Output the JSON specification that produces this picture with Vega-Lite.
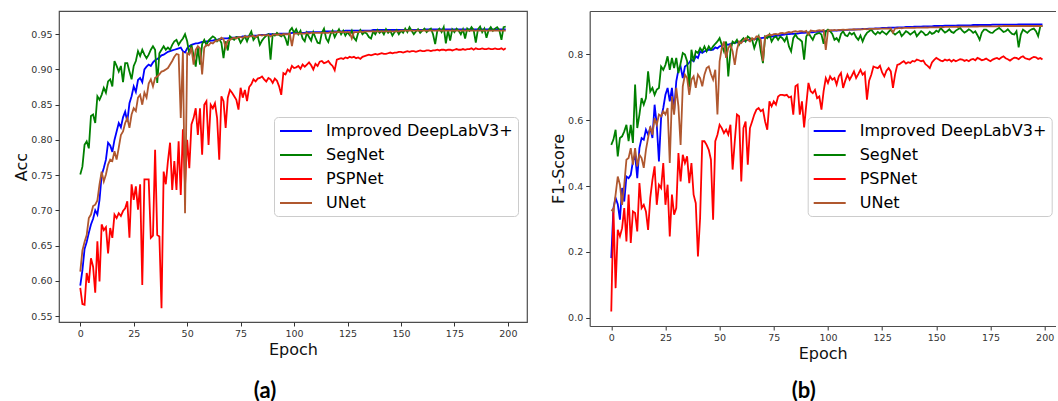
{
"$schema":"https://vega.github.io/schema/vega-lite/v6.json",
"background":"white",
"padding":{"left":13,"top":10,"right":0,"bottom":0},
"spacing":62.7,
"bounds":"flush",
"config":{
 "font":"DejaVu Sans",
 "view":{"stroke":"#4d4d4d","strokeWidth":1.2},
 "axis":{"labelFont":"DejaVu Sans","labelFontSize":9.5,"labelColor":"#333333","tickColor":"#333333","tickSize":4,"tickWidth":1,"titleFont":"DejaVu Sans","titleFontSize":16,"titleFontWeight":"normal","titleColor":"#111111","grid":false,"domainColor":"#4d4d4d","domainWidth":1.2},
 "axisY":{"titlePadding":1,"labelPadding":3},
 "axisX":{"titlePadding":4,"labelPadding":2},
 "legend":{"orient":"none","direction":"vertical","title":null,"labelFont":"DejaVu Sans","labelFontSize":16,"labelColor":"#000000","labelLimit":400,"symbolType":"M-2,0H2","symbolSize":256,"symbolStrokeWidth":2,"symbolOffset":8,"labelOffset":21,"rowPadding":7,"padding":5,"strokeColor":"#cccccc","fillColor":"rgba(255,255,255,0.85)","cornerRadius":4}
},
"resolve":{"scale":{"x":"independent","y":"independent","color":"independent"},"legend":{"color":"independent"}},
"hconcat":[
{
 "width":468,"height":311,
 "title":{"text":"(a)","orient":"bottom","frame":"group","anchor":"middle","font":"Lato","fontSize":22,"fontWeight":"bold","color":"#000000","offset":23,"dx":-28},
 "data":{"name":"a"},
 "transform":[{"fold":["D","S","P","U"],"as":["k","v"]}],
 "mark":{"type":"line","strokeWidth":1.8,"clip":true},
 "encoding":{
  "x":{"field":"e","type":"quantitative","scale":{"domain":[-9.95,208.95],"nice":false,"zero":false},"axis":{"values":[0,25,50,75,100,125,150,175,200],"title":"Epoch","domain":false}},
  "y":{"field":"v","type":"quantitative","scale":{"domain":[0.5415,0.983],"nice":false,"zero":false},"axis":{"values":[0.55,0.6,0.65,0.7,0.75,0.8,0.85,0.9,0.95],"format":".2f","title":"Acc","domain":false}},
  "color":{"field":"k","type":"nominal","scale":{"domain":["D","S","P","U"],"range":["#0000ff","#008000","#ff0000","#b0582f"]},"legend":{"legendX":215,"legendY":106,"labelExpr":"datum.label == 'D' ? 'Improved DeepLabV3+' : datum.label == 'S' ? 'SegNet' : datum.label == 'P' ? 'PSPNet' : 'UNet'"}}
 }
},
{
 "width":466,"height":315,
 "view":{"stroke":null},
 "title":{"text":"(b)","orient":"bottom","frame":"group","anchor":"middle","font":"Lato","fontSize":22,"fontWeight":"bold","color":"#000000","offset":23,"dx":-19,"dy":-4},
 "data":{"name":"b"},
 "transform":[{"fold":["D","S","P","U"],"as":["k","v"]}],
 "layer":[
 {
  "mark":{"type":"line","strokeWidth":1.8,"clip":true},
  "encoding":{
   "x":{"field":"e","type":"quantitative","scale":{"domain":[-9.95,205.1],"nice":false,"zero":false},"axis":{"orient":"bottom","values":[0,25,50,75,100,125,150,175,200],"title":"Epoch","domain":true}},
   "y":{"field":"v","type":"quantitative","scale":{"domain":[-0.025,0.9315],"nice":false,"zero":false},"axis":{"orient":"left","values":[0,0.2,0.4,0.6,0.8],"format":".1f","title":"F1-Score","domain":true}},
   "color":{"field":"k","type":"nominal","scale":{"domain":["D","S","P","U"],"range":["#0000ff","#008000","#ff0000","#b0582f"]},"legend":{"legendX":218,"legendY":106,"labelExpr":"datum.label == 'D' ? 'Improved DeepLabV3+' : datum.label == 'S' ? 'SegNet' : datum.label == 'P' ? 'PSPNet' : 'UNet'"}}
  }
 },
 {
  "mark":{"type":"line","opacity":0},
  "encoding":{
   "x":{"field":"e","type":"quantitative","scale":{"domain":[-9.95,205.1],"nice":false,"zero":false},"axis":{"orient":"top","labels":false,"ticks":false,"title":null,"domain":true}},
   "y":{"field":"v","type":"quantitative","scale":{"domain":[-0.025,0.9315],"nice":false,"zero":false}}
  }
 }
 ]
}
],
"datasets":{
"a":[
{"e":0,"D":0.593,"S":0.751,"P":0.590,"U":0.613},
{"e":1,"D":0.615,"S":0.762,"P":0.567,"U":0.643},
{"e":2,"D":0.645,"S":0.793,"P":0.566,"U":0.655},
{"e":3,"D":0.655,"S":0.798,"P":0.611,"U":0.665},
{"e":4,"D":0.668,"S":0.788,"P":0.597,"U":0.689},
{"e":5,"D":0.680,"S":0.834,"P":0.632,"U":0.694},
{"e":6,"D":0.688,"S":0.836,"P":0.620,"U":0.706},
{"e":7,"D":0.700,"S":0.824,"P":0.583,"U":0.708},
{"e":8,"D":0.694,"S":0.862,"P":0.656,"U":0.714},
{"e":9,"D":0.715,"S":0.857,"P":0.599,"U":0.737},
{"e":10,"D":0.750,"S":0.864,"P":0.680,"U":0.755},
{"e":11,"D":0.760,"S":0.874,"P":0.672,"U":0.741},
{"e":12,"D":0.772,"S":0.867,"P":0.676,"U":0.751},
{"e":13,"D":0.796,"S":0.883,"P":0.639,"U":0.765},
{"e":14,"D":0.792,"S":0.886,"P":0.675,"U":0.772},
{"e":15,"D":0.783,"S":0.876,"P":0.661,"U":0.770},
{"e":16,"D":0.800,"S":0.912,"P":0.694,"U":0.784},
{"e":17,"D":0.812,"S":0.905,"P":0.689,"U":0.772},
{"e":18,"D":0.824,"S":0.897,"P":0.696,"U":0.789},
{"e":19,"D":0.818,"S":0.905,"P":0.692,"U":0.807},
{"e":20,"D":0.832,"S":0.882,"P":0.699,"U":0.812},
{"e":21,"D":0.840,"S":0.909,"P":0.703,"U":0.824},
{"e":22,"D":0.826,"S":0.909,"P":0.713,"U":0.831},
{"e":23,"D":0.852,"S":0.897,"P":0.661,"U":0.817},
{"e":24,"D":0.862,"S":0.886,"P":0.737,"U":0.836},
{"e":25,"D":0.876,"S":0.905,"P":0.715,"U":0.845},
{"e":26,"D":0.868,"S":0.912,"P":0.734,"U":0.841},
{"e":27,"D":0.885,"S":0.926,"P":0.701,"U":0.860},
{"e":28,"D":0.888,"S":0.919,"P":0.737,"U":0.864},
{"e":29,"D":0.882,"S":0.928,"P":0.594,"U":0.850},
{"e":30,"D":0.900,"S":0.921,"P":0.744,"U":0.867},
{"e":31,"D":0.904,"S":0.916,"P":0.744,"U":0.860},
{"e":32,"D":0.907,"S":0.921,"P":0.744,"U":0.880},
{"e":33,"D":0.905,"S":0.928,"P":0.661,"U":0.886},
{"e":34,"D":0.910,"S":0.933,"P":0.664,"U":0.876},
{"e":35,"D":0.913,"S":0.928,"P":0.786,"U":0.888},
{"e":36,"D":0.915,"S":0.881,"P":0.665,"U":0.890},
{"e":37,"D":0.917,"S":0.923,"P":0.663,"U":0.893},
{"e":38,"D":0.920,"S":0.928,"P":0.561,"U":0.897},
{"e":39,"D":0.921,"S":0.933,"P":0.755,"U":0.898},
{"e":40,"D":0.923,"S":0.928,"P":0.737,"U":0.900},
{"e":41,"D":0.925,"S":0.931,"P":0.770,"U":0.902},
{"e":42,"D":0.926,"S":0.928,"P":0.796,"U":0.907},
{"e":43,"D":0.927,"S":0.935,"P":0.729,"U":0.912},
{"e":44,"D":0.928,"S":0.940,"P":0.770,"U":0.918},
{"e":45,"D":0.929,"S":0.942,"P":0.729,"U":0.922},
{"e":46,"D":0.930,"S":0.935,"P":0.798,"U":0.921},
{"e":47,"D":0.931,"S":0.940,"P":0.722,"U":0.831},
{"e":48,"D":0.926,"S":0.944,"P":0.815,"U":0.925},
{"e":49,"D":0.924,"S":0.950,"P":0.735,"U":0.696},
{"e":50,"D":0.930,"S":0.940,"P":0.800,"U":0.923},
{"e":51,"D":0.933,"S":0.922,"P":0.760,"U":0.921},
{"e":52,"D":0.935,"S":0.935,"P":0.822,"U":0.931},
{"e":53,"D":0.936,"S":0.920,"P":0.831,"U":0.907},
{"e":54,"D":0.937,"S":0.904,"P":0.845,"U":0.928},
{"e":55,"D":0.937,"S":0.931,"P":0.807,"U":0.933},
{"e":56,"D":0.938,"S":0.907,"P":0.845,"U":0.930},
{"e":57,"D":0.939,"S":0.936,"P":0.779,"U":0.893},
{"e":58,"D":0.939,"S":0.942,"P":0.850,"U":0.931},
{"e":59,"D":0.940,"S":0.935,"P":0.855,"U":0.935},
{"e":60,"D":0.940,"S":0.941,"P":0.793,"U":0.934},
{"e":61,"D":0.941,"S":0.944,"P":0.850,"U":0.938},
{"e":62,"D":0.941,"S":0.947,"P":0.845,"U":0.937},
{"e":63,"D":0.942,"S":0.945,"P":0.852,"U":0.940},
{"e":64,"D":0.942,"S":0.940,"P":0.831,"U":0.941},
{"e":65,"D":0.943,"S":0.943,"P":0.772,"U":0.942},
{"e":66,"D":0.943,"S":0.938,"P":0.862,"U":0.945},
{"e":67,"D":0.944,"S":0.916,"P":0.855,"U":0.943},
{"e":68,"D":0.944,"S":0.940,"P":0.817,"U":0.931},
{"e":69,"D":0.944,"S":0.927,"P":0.860,"U":0.941},
{"e":70,"D":0.945,"S":0.947,"P":0.871,"U":0.942},
{"e":71,"D":0.945,"S":0.944,"P":0.867,"U":0.944},
{"e":72,"D":0.945,"S":0.942,"P":0.862,"U":0.945},
{"e":73,"D":0.946,"S":0.946,"P":0.857,"U":0.944},
{"e":74,"D":0.946,"S":0.945,"P":0.843,"U":0.946},
{"e":75,"D":0.946,"S":0.938,"P":0.874,"U":0.946},
{"e":76,"D":0.947,"S":0.943,"P":0.860,"U":0.945},
{"e":77,"D":0.947,"S":0.947,"P":0.871,"U":0.947},
{"e":78,"D":0.947,"S":0.940,"P":0.855,"U":0.946},
{"e":79,"D":0.947,"S":0.948,"P":0.875,"U":0.947},
{"e":80,"D":0.948,"S":0.954,"P":0.879,"U":0.947},
{"e":81,"D":0.948,"S":0.942,"P":0.886,"U":0.948},
{"e":82,"D":0.948,"S":0.946,"P":0.883,"U":0.946},
{"e":83,"D":0.948,"S":0.947,"P":0.887,"U":0.948},
{"e":84,"D":0.949,"S":0.935,"P":0.888,"U":0.949},
{"e":85,"D":0.949,"S":0.941,"P":0.890,"U":0.948},
{"e":86,"D":0.949,"S":0.945,"P":0.886,"U":0.949},
{"e":87,"D":0.949,"S":0.948,"P":0.883,"U":0.948},
{"e":88,"D":0.950,"S":0.950,"P":0.888,"U":0.949},
{"e":89,"D":0.950,"S":0.914,"P":0.886,"U":0.947},
{"e":90,"D":0.950,"S":0.950,"P":0.881,"U":0.949},
{"e":91,"D":0.950,"S":0.948,"P":0.887,"U":0.950},
{"e":92,"D":0.950,"S":0.952,"P":0.884,"U":0.949},
{"e":93,"D":0.951,"S":0.949,"P":0.876,"U":0.950},
{"e":94,"D":0.951,"S":0.947,"P":0.864,"U":0.949},
{"e":95,"D":0.951,"S":0.950,"P":0.895,"U":0.950},
{"e":96,"D":0.951,"S":0.944,"P":0.893,"U":0.950},
{"e":97,"D":0.951,"S":0.934,"P":0.900,"U":0.950},
{"e":98,"D":0.951,"S":0.955,"P":0.897,"U":0.951},
{"e":99,"D":0.952,"S":0.959,"P":0.905,"U":0.933},
{"e":100,"D":0.952,"S":0.952,"P":0.902,"U":0.951},
{"e":101,"D":0.952,"S":0.957,"P":0.903,"U":0.951},
{"e":102,"D":0.952,"S":0.950,"P":0.905,"U":0.951},
{"e":103,"D":0.952,"S":0.955,"P":0.901,"U":0.951},
{"e":104,"D":0.952,"S":0.944,"P":0.907,"U":0.951},
{"e":105,"D":0.952,"S":0.940,"P":0.904,"U":0.951},
{"e":106,"D":0.953,"S":0.952,"P":0.907,"U":0.952},
{"e":107,"D":0.953,"S":0.946,"P":0.910,"U":0.951},
{"e":108,"D":0.953,"S":0.941,"P":0.906,"U":0.952},
{"e":109,"D":0.953,"S":0.953,"P":0.900,"U":0.952},
{"e":110,"D":0.953,"S":0.945,"P":0.908,"U":0.952},
{"e":111,"D":0.953,"S":0.938,"P":0.905,"U":0.952},
{"e":112,"D":0.953,"S":0.937,"P":0.911,"U":0.952},
{"e":113,"D":0.953,"S":0.952,"P":0.912,"U":0.952},
{"e":114,"D":0.954,"S":0.958,"P":0.909,"U":0.952},
{"e":115,"D":0.954,"S":0.944,"P":0.910,"U":0.952},
{"e":116,"D":0.954,"S":0.939,"P":0.912,"U":0.952},
{"e":117,"D":0.954,"S":0.950,"P":0.908,"U":0.953},
{"e":118,"D":0.954,"S":0.955,"P":0.905,"U":0.952},
{"e":119,"D":0.954,"S":0.946,"P":0.899,"U":0.953},
{"e":120,"D":0.954,"S":0.952,"P":0.914,"U":0.953},
{"e":121,"D":0.954,"S":0.957,"P":0.915,"U":0.953},
{"e":122,"D":0.954,"S":0.950,"P":0.916,"U":0.953},
{"e":123,"D":0.954,"S":0.955,"P":0.915,"U":0.953},
{"e":124,"D":0.955,"S":0.948,"P":0.917,"U":0.953},
{"e":125,"D":0.955,"S":0.953,"P":0.916,"U":0.953},
{"e":126,"D":0.955,"S":0.949,"P":0.918,"U":0.953},
{"e":127,"D":0.955,"S":0.955,"P":0.917,"U":0.944},
{"e":128,"D":0.955,"S":0.945,"P":0.918,"U":0.953},
{"e":129,"D":0.955,"S":0.941,"P":0.916,"U":0.953},
{"e":130,"D":0.955,"S":0.952,"P":0.917,"U":0.953},
{"e":131,"D":0.955,"S":0.956,"P":0.915,"U":0.954},
{"e":132,"D":0.955,"S":0.950,"P":0.918,"U":0.953},
{"e":133,"D":0.955,"S":0.953,"P":0.919,"U":0.954},
{"e":134,"D":0.955,"S":0.951,"P":0.920,"U":0.954},
{"e":135,"D":0.955,"S":0.946,"P":0.921,"U":0.954},
{"e":136,"D":0.955,"S":0.944,"P":0.920,"U":0.954},
{"e":137,"D":0.956,"S":0.954,"P":0.921,"U":0.954},
{"e":138,"D":0.956,"S":0.950,"P":0.922,"U":0.954},
{"e":139,"D":0.956,"S":0.956,"P":0.921,"U":0.954},
{"e":140,"D":0.956,"S":0.952,"P":0.922,"U":0.954},
{"e":141,"D":0.956,"S":0.955,"P":0.923,"U":0.954},
{"e":142,"D":0.956,"S":0.950,"P":0.922,"U":0.954},
{"e":143,"D":0.956,"S":0.957,"P":0.922,"U":0.954},
{"e":144,"D":0.956,"S":0.952,"P":0.923,"U":0.954},
{"e":145,"D":0.956,"S":0.955,"P":0.924,"U":0.954},
{"e":146,"D":0.956,"S":0.948,"P":0.923,"U":0.954},
{"e":147,"D":0.956,"S":0.953,"P":0.924,"U":0.954},
{"e":148,"D":0.956,"S":0.956,"P":0.924,"U":0.954},
{"e":149,"D":0.956,"S":0.950,"P":0.925,"U":0.954},
{"e":150,"D":0.956,"S":0.955,"P":0.925,"U":0.955},
{"e":151,"D":0.956,"S":0.952,"P":0.924,"U":0.955},
{"e":152,"D":0.956,"S":0.958,"P":0.925,"U":0.955},
{"e":153,"D":0.956,"S":0.953,"P":0.926,"U":0.955},
{"e":154,"D":0.956,"S":0.960,"P":0.925,"U":0.955},
{"e":155,"D":0.956,"S":0.955,"P":0.926,"U":0.955},
{"e":156,"D":0.956,"S":0.950,"P":0.926,"U":0.955},
{"e":157,"D":0.956,"S":0.954,"P":0.925,"U":0.955},
{"e":158,"D":0.956,"S":0.957,"P":0.926,"U":0.955},
{"e":159,"D":0.956,"S":0.952,"P":0.927,"U":0.955},
{"e":160,"D":0.956,"S":0.955,"P":0.926,"U":0.955},
{"e":161,"D":0.957,"S":0.958,"P":0.926,"U":0.955},
{"e":162,"D":0.957,"S":0.953,"P":0.927,"U":0.955},
{"e":163,"D":0.957,"S":0.956,"P":0.927,"U":0.955},
{"e":164,"D":0.957,"S":0.958,"P":0.926,"U":0.955},
{"e":165,"D":0.957,"S":0.950,"P":0.927,"U":0.955},
{"e":166,"D":0.957,"S":0.936,"P":0.927,"U":0.955},
{"e":167,"D":0.957,"S":0.955,"P":0.928,"U":0.955},
{"e":168,"D":0.957,"S":0.958,"P":0.927,"U":0.955},
{"e":169,"D":0.957,"S":0.953,"P":0.928,"U":0.955},
{"e":170,"D":0.957,"S":0.960,"P":0.928,"U":0.955},
{"e":171,"D":0.957,"S":0.937,"P":0.927,"U":0.955},
{"e":172,"D":0.957,"S":0.956,"P":0.928,"U":0.955},
{"e":173,"D":0.957,"S":0.941,"P":0.928,"U":0.955},
{"e":174,"D":0.957,"S":0.957,"P":0.927,"U":0.955},
{"e":175,"D":0.957,"S":0.953,"P":0.928,"U":0.955},
{"e":176,"D":0.957,"S":0.958,"P":0.929,"U":0.955},
{"e":177,"D":0.957,"S":0.955,"P":0.928,"U":0.955},
{"e":178,"D":0.957,"S":0.950,"P":0.928,"U":0.955},
{"e":179,"D":0.957,"S":0.957,"P":0.929,"U":0.955},
{"e":180,"D":0.957,"S":0.944,"P":0.928,"U":0.955},
{"e":181,"D":0.957,"S":0.958,"P":0.929,"U":0.955},
{"e":182,"D":0.957,"S":0.955,"P":0.929,"U":0.955},
{"e":183,"D":0.957,"S":0.960,"P":0.930,"U":0.955},
{"e":184,"D":0.957,"S":0.956,"P":0.928,"U":0.955},
{"e":185,"D":0.957,"S":0.938,"P":0.930,"U":0.955},
{"e":186,"D":0.957,"S":0.957,"P":0.929,"U":0.955},
{"e":187,"D":0.957,"S":0.961,"P":0.929,"U":0.955},
{"e":188,"D":0.957,"S":0.953,"P":0.930,"U":0.955},
{"e":189,"D":0.957,"S":0.958,"P":0.929,"U":0.955},
{"e":190,"D":0.957,"S":0.945,"P":0.929,"U":0.955},
{"e":191,"D":0.957,"S":0.956,"P":0.930,"U":0.955},
{"e":192,"D":0.957,"S":0.960,"P":0.929,"U":0.955},
{"e":193,"D":0.957,"S":0.955,"P":0.929,"U":0.955},
{"e":194,"D":0.957,"S":0.958,"P":0.930,"U":0.955},
{"e":195,"D":0.957,"S":0.960,"P":0.929,"U":0.955},
{"e":196,"D":0.957,"S":0.956,"P":0.929,"U":0.955},
{"e":197,"D":0.957,"S":0.942,"P":0.930,"U":0.955},
{"e":198,"D":0.957,"S":0.960,"P":0.928,"U":0.955},
{"e":199,"D":0.957,"S":0.961,"P":0.930,"U":0.955}
],
"b":[
{"e":0,"D":0.181,"S":0.525,"P":0.019,"U":0.328},
{"e":1,"D":0.333,"S":0.541,"P":0.333,"U":0.323},
{"e":2,"D":0.364,"S":0.571,"P":0.090,"U":0.374},
{"e":3,"D":0.345,"S":0.490,"P":0.267,"U":0.429},
{"e":4,"D":0.298,"S":0.546,"P":0.247,"U":0.404},
{"e":5,"D":0.394,"S":0.551,"P":0.272,"U":0.343},
{"e":6,"D":0.353,"S":0.566,"P":0.333,"U":0.404},
{"e":7,"D":0.429,"S":0.586,"P":0.232,"U":0.480},
{"e":8,"D":0.424,"S":0.536,"P":0.374,"U":0.485},
{"e":9,"D":0.434,"S":0.586,"P":0.227,"U":0.515},
{"e":10,"D":0.475,"S":0.531,"P":0.323,"U":0.465},
{"e":11,"D":0.495,"S":0.708,"P":0.318,"U":0.515},
{"e":12,"D":0.424,"S":0.576,"P":0.262,"U":0.460},
{"e":13,"D":0.515,"S":0.617,"P":0.409,"U":0.495},
{"e":14,"D":0.546,"S":0.667,"P":0.333,"U":0.485},
{"e":15,"D":0.541,"S":0.647,"P":0.343,"U":0.455},
{"e":16,"D":0.571,"S":0.667,"P":0.323,"U":0.510},
{"e":17,"D":0.556,"S":0.748,"P":0.267,"U":0.546},
{"e":18,"D":0.576,"S":0.687,"P":0.364,"U":0.581},
{"e":19,"D":0.546,"S":0.698,"P":0.419,"U":0.556},
{"e":20,"D":0.647,"S":0.677,"P":0.460,"U":0.606},
{"e":21,"D":0.586,"S":0.693,"P":0.343,"U":0.586},
{"e":22,"D":0.475,"S":0.698,"P":0.404,"U":0.617},
{"e":23,"D":0.606,"S":0.763,"P":0.394,"U":0.612},
{"e":24,"D":0.637,"S":0.753,"P":0.470,"U":0.627},
{"e":25,"D":0.677,"S":0.768,"P":0.343,"U":0.617},
{"e":26,"D":0.698,"S":0.794,"P":0.404,"U":0.637},
{"e":27,"D":0.657,"S":0.753,"P":0.247,"U":0.470},
{"e":28,"D":0.698,"S":0.789,"P":0.374,"U":0.672},
{"e":29,"D":0.627,"S":0.758,"P":0.313,"U":0.617},
{"e":30,"D":0.718,"S":0.789,"P":0.333,"U":0.698},
{"e":31,"D":0.753,"S":0.743,"P":0.500,"U":0.642},
{"e":32,"D":0.763,"S":0.773,"P":0.414,"U":0.525},
{"e":33,"D":0.728,"S":0.804,"P":0.495,"U":0.703},
{"e":34,"D":0.763,"S":0.799,"P":0.470,"U":0.738},
{"e":35,"D":0.768,"S":0.779,"P":0.490,"U":0.728},
{"e":36,"D":0.775,"S":0.700,"P":0.409,"U":0.677},
{"e":37,"D":0.784,"S":0.814,"P":0.470,"U":0.723},
{"e":38,"D":0.779,"S":0.779,"P":0.374,"U":0.733},
{"e":39,"D":0.794,"S":0.809,"P":0.348,"U":0.698},
{"e":40,"D":0.789,"S":0.804,"P":0.186,"U":0.738},
{"e":41,"D":0.809,"S":0.819,"P":0.303,"U":0.728},
{"e":42,"D":0.804,"S":0.809,"P":0.536,"U":0.703},
{"e":43,"D":0.809,"S":0.824,"P":0.536,"U":0.738},
{"e":44,"D":0.811,"S":0.809,"P":0.525,"U":0.758},
{"e":45,"D":0.814,"S":0.824,"P":0.510,"U":0.763},
{"e":46,"D":0.813,"S":0.814,"P":0.480,"U":0.740},
{"e":47,"D":0.814,"S":0.824,"P":0.298,"U":0.723},
{"e":48,"D":0.821,"S":0.832,"P":0.536,"U":0.753},
{"e":49,"D":0.818,"S":0.839,"P":0.556,"U":0.617},
{"e":50,"D":0.824,"S":0.849,"P":0.586,"U":0.779},
{"e":51,"D":0.826,"S":0.829,"P":0.576,"U":0.819},
{"e":52,"D":0.828,"S":0.809,"P":0.561,"U":0.839},
{"e":53,"D":0.830,"S":0.839,"P":0.571,"U":0.789},
{"e":54,"D":0.829,"S":0.733,"P":0.556,"U":0.819},
{"e":55,"D":0.832,"S":0.809,"P":0.586,"U":0.829},
{"e":56,"D":0.834,"S":0.839,"P":0.450,"U":0.809},
{"e":57,"D":0.835,"S":0.834,"P":0.536,"U":0.768},
{"e":58,"D":0.836,"S":0.844,"P":0.617,"U":0.814},
{"e":59,"D":0.838,"S":0.829,"P":0.612,"U":0.839},
{"e":60,"D":0.839,"S":0.842,"P":0.414,"U":0.834},
{"e":61,"D":0.840,"S":0.849,"P":0.576,"U":0.842},
{"e":62,"D":0.842,"S":0.839,"P":0.596,"U":0.849},
{"e":63,"D":0.843,"S":0.854,"P":0.465,"U":0.844},
{"e":64,"D":0.844,"S":0.849,"P":0.576,"U":0.839},
{"e":65,"D":0.845,"S":0.844,"P":0.596,"U":0.849},
{"e":66,"D":0.846,"S":0.819,"P":0.617,"U":0.844},
{"e":67,"D":0.847,"S":0.839,"P":0.632,"U":0.854},
{"e":68,"D":0.848,"S":0.854,"P":0.637,"U":0.854},
{"e":69,"D":0.849,"S":0.809,"P":0.627,"U":0.844},
{"e":70,"D":0.850,"S":0.773,"P":0.632,"U":0.779},
{"e":71,"D":0.851,"S":0.854,"P":0.596,"U":0.854},
{"e":72,"D":0.852,"S":0.849,"P":0.571,"U":0.857},
{"e":73,"D":0.853,"S":0.860,"P":0.657,"U":0.860},
{"e":74,"D":0.854,"S":0.839,"P":0.642,"U":0.858},
{"e":75,"D":0.855,"S":0.850,"P":0.657,"U":0.861},
{"e":76,"D":0.856,"S":0.854,"P":0.647,"U":0.862},
{"e":77,"D":0.857,"S":0.844,"P":0.672,"U":0.860},
{"e":78,"D":0.858,"S":0.854,"P":0.677,"U":0.864},
{"e":79,"D":0.859,"S":0.849,"P":0.677,"U":0.865},
{"e":80,"D":0.860,"S":0.839,"P":0.675,"U":0.863},
{"e":81,"D":0.861,"S":0.854,"P":0.677,"U":0.866},
{"e":82,"D":0.861,"S":0.824,"P":0.669,"U":0.868},
{"e":83,"D":0.862,"S":0.809,"P":0.672,"U":0.866},
{"e":84,"D":0.862,"S":0.849,"P":0.617,"U":0.869},
{"e":85,"D":0.863,"S":0.860,"P":0.703,"U":0.870},
{"e":86,"D":0.863,"S":0.849,"P":0.708,"U":0.868},
{"e":87,"D":0.864,"S":0.845,"P":0.617,"U":0.870},
{"e":88,"D":0.865,"S":0.839,"P":0.657,"U":0.870},
{"e":89,"D":0.865,"S":0.784,"P":0.578,"U":0.868},
{"e":90,"D":0.866,"S":0.854,"P":0.647,"U":0.871},
{"e":91,"D":0.866,"S":0.865,"P":0.713,"U":0.860},
{"e":92,"D":0.867,"S":0.854,"P":0.688,"U":0.872},
{"e":93,"D":0.867,"S":0.844,"P":0.682,"U":0.871},
{"e":94,"D":0.868,"S":0.860,"P":0.692,"U":0.870},
{"e":95,"D":0.868,"S":0.863,"P":0.667,"U":0.872},
{"e":96,"D":0.869,"S":0.865,"P":0.672,"U":0.873},
{"e":97,"D":0.869,"S":0.860,"P":0.632,"U":0.872},
{"e":98,"D":0.870,"S":0.832,"P":0.688,"U":0.874},
{"e":99,"D":0.870,"S":0.870,"P":0.728,"U":0.813},
{"e":100,"D":0.871,"S":0.875,"P":0.713,"U":0.872},
{"e":101,"D":0.871,"S":0.870,"P":0.733,"U":0.873},
{"e":102,"D":0.872,"S":0.862,"P":0.723,"U":0.873},
{"e":103,"D":0.872,"S":0.844,"P":0.728,"U":0.874},
{"e":104,"D":0.872,"S":0.849,"P":0.708,"U":0.873},
{"e":105,"D":0.873,"S":0.839,"P":0.733,"U":0.874},
{"e":106,"D":0.873,"S":0.862,"P":0.743,"U":0.874},
{"e":107,"D":0.873,"S":0.870,"P":0.698,"U":0.875},
{"e":108,"D":0.874,"S":0.858,"P":0.720,"U":0.874},
{"e":109,"D":0.874,"S":0.855,"P":0.738,"U":0.875},
{"e":110,"D":0.875,"S":0.866,"P":0.723,"U":0.875},
{"e":111,"D":0.875,"S":0.860,"P":0.735,"U":0.875},
{"e":112,"D":0.875,"S":0.865,"P":0.748,"U":0.876},
{"e":113,"D":0.876,"S":0.852,"P":0.728,"U":0.875},
{"e":114,"D":0.876,"S":0.844,"P":0.740,"U":0.876},
{"e":115,"D":0.876,"S":0.857,"P":0.753,"U":0.876},
{"e":116,"D":0.877,"S":0.839,"P":0.738,"U":0.876},
{"e":117,"D":0.877,"S":0.855,"P":0.745,"U":0.877},
{"e":118,"D":0.877,"S":0.865,"P":0.662,"U":0.876},
{"e":119,"D":0.878,"S":0.870,"P":0.720,"U":0.877},
{"e":120,"D":0.878,"S":0.875,"P":0.738,"U":0.877},
{"e":121,"D":0.878,"S":0.866,"P":0.763,"U":0.877},
{"e":122,"D":0.879,"S":0.860,"P":0.760,"U":0.878},
{"e":123,"D":0.879,"S":0.868,"P":0.758,"U":0.877},
{"e":124,"D":0.879,"S":0.863,"P":0.765,"U":0.878},
{"e":125,"D":0.880,"S":0.870,"P":0.745,"U":0.878},
{"e":126,"D":0.880,"S":0.865,"P":0.733,"U":0.878},
{"e":127,"D":0.880,"S":0.860,"P":0.750,"U":0.879},
{"e":128,"D":0.881,"S":0.868,"P":0.758,"U":0.878},
{"e":129,"D":0.881,"S":0.875,"P":0.748,"U":0.879},
{"e":130,"D":0.881,"S":0.866,"P":0.698,"U":0.866},
{"e":131,"D":0.881,"S":0.860,"P":0.740,"U":0.879},
{"e":132,"D":0.882,"S":0.865,"P":0.768,"U":0.879},
{"e":133,"D":0.882,"S":0.870,"P":0.770,"U":0.880},
{"e":134,"D":0.882,"S":0.855,"P":0.775,"U":0.879},
{"e":135,"D":0.882,"S":0.862,"P":0.779,"U":0.880},
{"e":136,"D":0.883,"S":0.870,"P":0.772,"U":0.880},
{"e":137,"D":0.883,"S":0.866,"P":0.776,"U":0.880},
{"e":138,"D":0.883,"S":0.860,"P":0.774,"U":0.880},
{"e":139,"D":0.883,"S":0.865,"P":0.780,"U":0.881},
{"e":140,"D":0.884,"S":0.870,"P":0.778,"U":0.880},
{"e":141,"D":0.884,"S":0.855,"P":0.784,"U":0.881},
{"e":142,"D":0.884,"S":0.863,"P":0.782,"U":0.881},
{"e":143,"D":0.884,"S":0.870,"P":0.779,"U":0.881},
{"e":144,"D":0.885,"S":0.866,"P":0.781,"U":0.881},
{"e":145,"D":0.885,"S":0.858,"P":0.770,"U":0.882},
{"e":146,"D":0.885,"S":0.860,"P":0.765,"U":0.881},
{"e":147,"D":0.885,"S":0.868,"P":0.758,"U":0.882},
{"e":148,"D":0.885,"S":0.862,"P":0.775,"U":0.882},
{"e":149,"D":0.886,"S":0.865,"P":0.783,"U":0.882},
{"e":150,"D":0.886,"S":0.872,"P":0.789,"U":0.882},
{"e":151,"D":0.886,"S":0.868,"P":0.785,"U":0.882},
{"e":152,"D":0.886,"S":0.880,"P":0.781,"U":0.883},
{"e":153,"D":0.886,"S":0.873,"P":0.779,"U":0.882},
{"e":154,"D":0.887,"S":0.866,"P":0.784,"U":0.883},
{"e":155,"D":0.887,"S":0.870,"P":0.781,"U":0.883},
{"e":156,"D":0.887,"S":0.876,"P":0.784,"U":0.883},
{"e":157,"D":0.887,"S":0.868,"P":0.778,"U":0.883},
{"e":158,"D":0.887,"S":0.865,"P":0.783,"U":0.883},
{"e":159,"D":0.887,"S":0.872,"P":0.779,"U":0.884},
{"e":160,"D":0.888,"S":0.876,"P":0.782,"U":0.883},
{"e":161,"D":0.888,"S":0.880,"P":0.785,"U":0.884},
{"e":162,"D":0.888,"S":0.872,"P":0.784,"U":0.884},
{"e":163,"D":0.888,"S":0.866,"P":0.780,"U":0.884},
{"e":164,"D":0.888,"S":0.870,"P":0.783,"U":0.884},
{"e":165,"D":0.888,"S":0.876,"P":0.779,"U":0.884},
{"e":166,"D":0.888,"S":0.872,"P":0.784,"U":0.884},
{"e":167,"D":0.889,"S":0.865,"P":0.786,"U":0.884},
{"e":168,"D":0.889,"S":0.870,"P":0.782,"U":0.885},
{"e":169,"D":0.889,"S":0.858,"P":0.789,"U":0.884},
{"e":170,"D":0.889,"S":0.844,"P":0.786,"U":0.885},
{"e":171,"D":0.889,"S":0.866,"P":0.782,"U":0.885},
{"e":172,"D":0.889,"S":0.875,"P":0.784,"U":0.885},
{"e":173,"D":0.889,"S":0.875,"P":0.787,"U":0.885},
{"e":174,"D":0.889,"S":0.870,"P":0.783,"U":0.885},
{"e":175,"D":0.889,"S":0.866,"P":0.779,"U":0.885},
{"e":176,"D":0.890,"S":0.865,"P":0.784,"U":0.885},
{"e":177,"D":0.890,"S":0.872,"P":0.787,"U":0.885},
{"e":178,"D":0.890,"S":0.876,"P":0.789,"U":0.885},
{"e":179,"D":0.890,"S":0.880,"P":0.785,"U":0.886},
{"e":180,"D":0.890,"S":0.874,"P":0.790,"U":0.885},
{"e":181,"D":0.890,"S":0.868,"P":0.794,"U":0.886},
{"e":182,"D":0.890,"S":0.870,"P":0.788,"U":0.886},
{"e":183,"D":0.890,"S":0.876,"P":0.785,"U":0.886},
{"e":184,"D":0.890,"S":0.868,"P":0.781,"U":0.886},
{"e":185,"D":0.890,"S":0.862,"P":0.786,"U":0.886},
{"e":186,"D":0.890,"S":0.860,"P":0.790,"U":0.886},
{"e":187,"D":0.890,"S":0.870,"P":0.789,"U":0.886},
{"e":188,"D":0.891,"S":0.821,"P":0.785,"U":0.886},
{"e":189,"D":0.891,"S":0.860,"P":0.791,"U":0.886},
{"e":190,"D":0.891,"S":0.875,"P":0.794,"U":0.886},
{"e":191,"D":0.891,"S":0.870,"P":0.788,"U":0.886},
{"e":192,"D":0.891,"S":0.865,"P":0.786,"U":0.886},
{"e":193,"D":0.891,"S":0.872,"P":0.784,"U":0.886},
{"e":194,"D":0.891,"S":0.876,"P":0.789,"U":0.886},
{"e":195,"D":0.891,"S":0.878,"P":0.792,"U":0.886},
{"e":196,"D":0.891,"S":0.870,"P":0.791,"U":0.886},
{"e":197,"D":0.891,"S":0.855,"P":0.786,"U":0.886},
{"e":198,"D":0.891,"S":0.885,"P":0.789,"U":0.886},
{"e":199,"D":0.891,"S":0.886,"P":0.784,"U":0.886}
]
}
}
